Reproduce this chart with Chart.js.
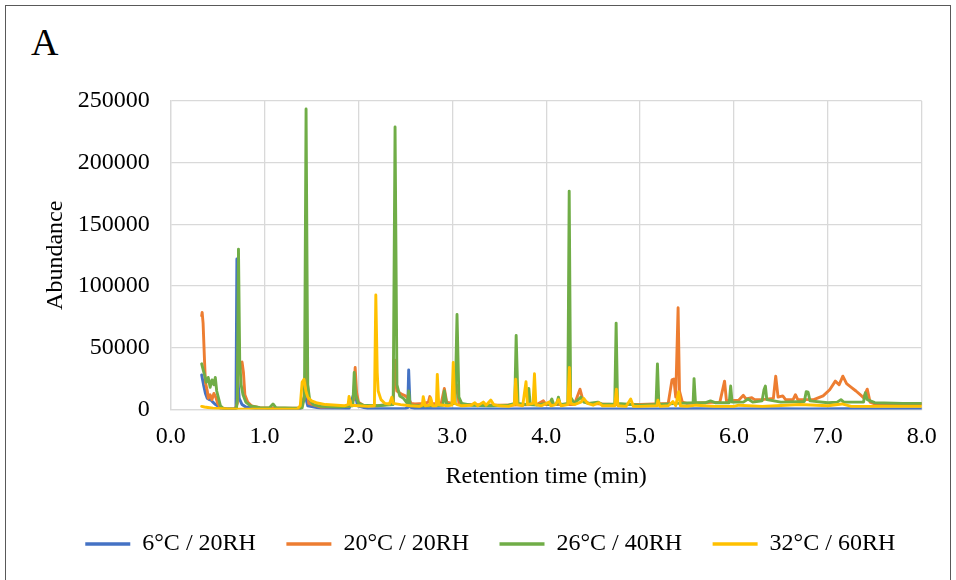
<!DOCTYPE html>
<html><head><meta charset="utf-8">
<script src="https://cdn.jsdelivr.net/npm/chart.js@4.4.0/dist/chart.umd.min.js"></script>
<style>
html,body{margin:0;padding:0;background:#fff;}
#wrap{position:relative;width:956px;height:580px;overflow:hidden;background:#fff;}
#frame{position:absolute;left:5px;top:5px;width:946px;height:600px;border:1px solid #595959;box-sizing:border-box;}
#lbl{position:absolute;left:31px;top:23px;font:38px/38px 'Liberation Serif','Times New Roman',serif;color:#000;}
canvas{position:absolute;left:0;top:0;}
</style></head>
<body><div id="wrap"><div id="frame"></div><div id="lbl">A</div><canvas id="c" width="956" height="580"></canvas></div>
<script>
const seriesNames = ['6°C / 20RH','20°C / 20RH','26°C / 40RH','32°C / 60RH'];
const xTicks = [0,1,2,3,4,5,6,7,8];
const yTicks = [0,50000,100000,150000,200000,250000];

// 6°C / 20RH
const t6 = [0.33,0.34,0.35,0.37,0.39,0.41,0.43,0.45,0.47,0.49,0.51,0.54,0.60,0.68,0.695,0.705,0.715,0.73,0.76,0.80,0.90,1.00,1.20,1.38,1.43,1.46,1.60,1.90,1.96,1.99,2.10,2.30,2.50,2.525,2.535,2.55,2.60,2.90,3.20,3.60,4.00,4.40,4.80,5.20,5.60,6.00,6.40,6.80,7.20,7.60,8.00];
const a6 = [28000,24000,20000,13000,9000,8000,7500,6000,4500,3500,2000,500,200,300,2000,122000,25000,9000,4000,2000,800,500,400,500,12000,3000,1000,800,15000,3000,800,600,700,1500,32000,2000,800,600,500,500,600,500,400,500,600,500,700,500,600,500,500];

// 20°C / 20RH
const t20 = [0.33,0.335,0.345,0.36,0.37,0.39,0.40,0.42,0.44,0.46,
0.48,0.50,0.53,0.60,0.69,0.71,0.722,0.735,0.745,0.76,
0.775,0.79,0.82,0.86,0.95,1.10,1.38,1.42,1.442,1.47,
1.60,1.90,1.95,1.965,1.98,2.00,2.05,2.20,2.30,2.37,
2.39,2.41,2.44,2.47,2.50,2.53,2.56,2.60,2.70,2.745,
2.76,2.78,2.88,2.915,2.94,3.00,3.05,3.07,3.10,3.50,
3.90,3.97,4.00,4.30,4.36,4.39,4.45,4.70,5.00,5.30,
5.34,5.36,5.38,5.405,5.42,5.45,5.50,5.85,5.90,5.92,
6.05,6.10,6.13,6.19,6.22,6.30,6.42,6.445,6.47,6.52,
6.55,6.63,6.655,6.68,6.85,6.95,7.02,7.08,7.12,7.16,
7.20,7.25,7.30,7.36,7.38,7.42,7.45,7.50,8.00];
const a20 = [76000,78700,70000,40000,22000,15000,9000,12000,8000,13000,
10000,5000,1500,500,600,5000,60000,30000,38000,38500,
30000,12000,6000,3000,1500,1000,1200,8000,40000,5000,
2000,2500,8000,34000,14000,6000,3500,3000,4000,4500,
40000,15000,13500,12000,11000,9000,5000,4500,5000,6000,
10500,5000,4500,17000,6000,5000,20000,5000,4000,3500,
4000,7000,4000,4000,16500,8000,5000,4000,4000,5000,
24000,24700,10000,82500,15000,6000,5000,6000,23000,7000,
7500,11500,8500,9500,8000,8000,9000,27000,10000,11000,
8000,8000,12000,8000,8000,11000,16000,23000,20000,27000,
21000,18000,15000,11000,9500,16500,6000,4500,4500];

// 26°C / 40RH
const t26 = [0.33,0.34,0.36,0.38,0.40,0.42,0.44,0.46,0.475,0.49,
0.51,0.53,0.56,0.60,0.70,0.71,0.722,0.735,0.75,0.77,
0.80,0.85,0.95,1.05,1.09,1.12,1.30,1.40,1.425,1.442,
1.46,1.48,1.52,1.60,1.80,1.94,1.955,1.97,2.00,2.05,
2.20,2.37,2.39,2.41,2.44,2.48,2.52,2.535,2.55,2.60,
2.75,2.90,2.915,2.94,3.03,3.05,3.07,3.10,3.20,3.40,
3.60,3.665,3.68,3.70,3.80,3.815,3.83,3.90,4.00,4.03,
4.06,4.08,4.11,4.13,4.15,4.23,4.245,4.26,4.30,4.37,
4.40,4.45,4.55,4.60,4.73,4.745,4.76,4.90,5.00,5.17,
5.185,5.20,5.40,5.565,5.575,5.59,5.70,5.75,5.80,5.95,
5.965,5.98,6.10,6.15,6.20,6.30,6.32,6.335,6.35,6.50,
6.75,6.77,6.79,6.81,7.00,7.10,7.14,7.17,7.38,7.40,
7.42,7.50,7.80,8.00];
const a26 = [37000,34000,28000,22000,26000,18000,24000,20000,26000,15000,
9000,3000,800,500,700,8000,130000,40000,20000,12000,
6000,3000,1500,1200,4500,1500,1000,1200,10000,243500,
20000,8000,4000,2500,2000,3000,30000,12000,5000,3500,
3000,4000,229000,20000,11000,9000,5000,15000,4000,3000,
3000,3500,15000,4000,5000,77000,10000,5000,3500,3000,
3500,5000,60000,5000,4000,17000,4000,3500,5000,4000,
8500,4000,4000,10000,4000,5000,177000,10000,5000,10000,
6000,5000,6000,4000,4500,70000,5000,4000,3500,4000,
37000,4000,5000,5500,25000,5500,5500,7000,5500,5500,
19000,6000,6000,8500,6000,7000,16000,19000,8000,6000,
6500,14500,14000,7000,5500,6000,8000,6000,6000,13500,
8000,5500,5000,5000];

// 32°C / 60RH
const t32 = [0.33,0.36,0.45,0.60,1.00,1.35,1.38,1.40,1.42,1.44,
1.46,1.50,1.55,1.65,1.85,1.89,1.90,1.92,2.00,2.10,
2.17,2.185,2.20,2.21,2.24,2.28,2.33,2.355,2.37,2.45,
2.55,2.65,2.68,2.69,2.71,2.76,2.77,2.79,2.83,2.84,
2.855,2.95,2.995,3.01,3.025,3.05,3.10,3.20,3.24,3.27,
3.33,3.36,3.41,3.44,3.50,3.60,3.66,3.675,3.69,3.75,
3.785,3.80,3.86,3.875,3.89,3.95,4.03,4.05,4.10,4.13,
4.16,4.23,4.247,4.26,4.30,4.37,4.40,4.44,4.50,4.56,
4.60,4.73,4.748,4.765,4.85,4.90,4.93,5.00,5.18,5.19,
5.21,5.30,5.35,5.38,5.41,5.43,5.50,5.60,5.80,6.00,
6.05,6.30,6.45,6.70,7.00,7.15,7.25,8.00];
const a32 = [2500,2000,1000,500,300,500,3000,22000,24500,15000,
10000,7000,5500,4000,3000,4000,10500,3500,3000,2500,
3000,92800,30000,15000,8000,5000,4500,10000,5000,4000,
3000,2500,3500,10400,3000,3500,9300,3000,3000,28500,
4000,3000,3500,38200,5000,4000,3000,3500,5500,3000,
6000,3500,7700,4000,3000,2500,4000,24500,4000,3000,
22500,4000,5000,29000,4000,3000,6000,3000,4000,8000,
3000,4000,34000,5000,4000,6000,9000,5000,3500,5500,
3000,3000,16400,3000,2500,8500,2500,2500,3000,7500,
2500,3000,6500,3000,14400,3000,2500,3500,2500,2500,
3500,2500,3000,4000,3000,4500,2500,2500];

const colors = ['#4472C4','#ED7D31','#70AD47','#FFC000'];
const serif = "'Liberation Serif','Times New Roman',serif";

function pts(t, a){ return t.map((x,i)=>({x:x, y:a[i]})); }
const series = [[t6,a6],[t20,a20],[t26,a26],[t32,a32]];
const datasets = series.map((s,i)=>({
  label: seriesNames[i],
  data: pts(s[0], s[1]),
  borderColor: colors[i],
  backgroundColor: colors[i],
  borderWidth: 2.9,
  pointRadius: 0,
  tension: 0,
  borderJoinStyle: 'round',
  borderCapStyle: 'round',
  order: 4 - i
}));

new Chart(document.getElementById('c'), {
  type: 'line',
  data: { datasets },
  options: {
    responsive: false,
    animation: false,
    events: [],
    layout: { padding: { left: 29.5, right: 5, top: 101, bottom: 14 } },
    plugins: {
      tooltip: { enabled: false },
      legend: {
        position: 'bottom',
        labels: {
          boxWidth: 45, boxHeight: 3.5, padding: 30.5, color: '#000',
          font: { family: serif, size: 24 },
          sort: (a, b) => a.datasetIndex - b.datasetIndex,
          generateLabels(chart) {
            const items = Chart.defaults.plugins.legend.labels.generateLabels(chart);
            items.forEach(it => { it.lineWidth = 0; it.fillStyle = it.strokeStyle; });
            return items;
          }
        }
      }
    },
    scales: {
      x: {
        type: 'linear', min: xTicks[0], max: xTicks[xTicks.length-1],
        afterBuildTicks(s){ s.ticks = xTicks.map(v => ({value: v})); },
        ticks: { callback: v => Number(v).toFixed(1), padding: 12.5, color: '#000', maxRotation: 0, autoSkip: false, font: { family: serif, size: 24 } },
        grid: { color: '#d9d9d9', lineWidth: 1.3, drawTicks: false },
        border: { color: '#d9d9d9', width: 1.3 },
        title: { display: true, text: 'Retention time (min)', color: '#000', font: { family: serif, size: 24 }, padding: { top: 0, bottom: 10.4 } },
        afterFit(s){ s.height = 92; s.paddingRight = 34.3; }
      },
      y: {
        min: yTicks[0], max: yTicks[yTicks.length-1],
        afterBuildTicks(s){ s.ticks = yTicks.map(v => ({value: v})); },
        ticks: { callback: v => String(v), padding: 21, color: '#000', font: { family: serif, size: 24 } },
        grid: { color: '#d9d9d9', lineWidth: 1.3, drawTicks: false },
        border: { color: '#d9d9d9', width: 1.3 },
        title: { display: true, text: 'Abundance', color: '#000', font: { family: serif, size: 24 }, padding: { top: 12.1, bottom: 0 } },
        afterFit(s){ s.width = 141.2; }
      }
    }
  }
});
</script>
</body></html>
